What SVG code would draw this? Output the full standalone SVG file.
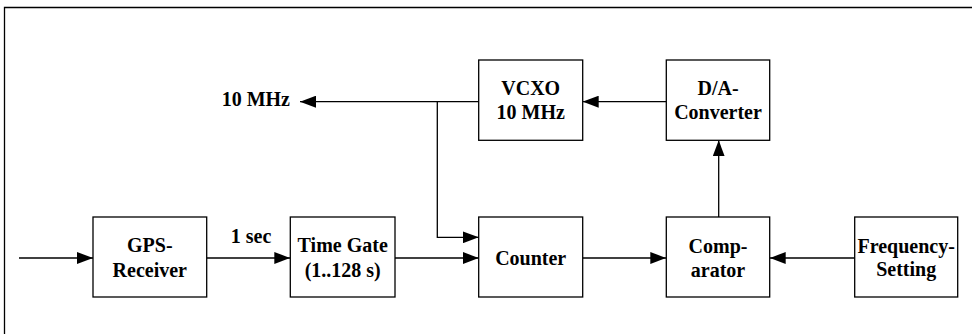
<svg xmlns="http://www.w3.org/2000/svg" width="972" height="334" viewBox="0 0 972 334">
<style>
.box{fill:#fff;stroke:#000;stroke-width:1.3}
.ln{fill:none;stroke:#000;stroke-width:1.3}
text{font-family:'Liberation Serif',serif;font-size:20px;font-weight:bold;fill:#000;text-anchor:middle}
.e{text-anchor:end}
</style>
<defs>
<marker id="ah" markerUnits="userSpaceOnUse" markerWidth="16" markerHeight="12" refX="16" refY="6" orient="auto">
<path d="M0,0 L16,6 L0,12 z" fill="#000"/>
</marker>
</defs>
<rect width="972" height="334" fill="#fff"/>
<path class="ln" d="M4.5,334 V7.5 H972" stroke-width="1.5"/>
<g id="connectors">
<path class="ln" d="M19,258 H93" marker-end="url(#ah)"/>
<path class="ln" d="M206.7,258 H290.3" marker-end="url(#ah)"/>
<path class="ln" d="M395,258 H478.7" marker-end="url(#ah)"/>
<path class="ln" d="M582.7,258 H666.3" marker-end="url(#ah)"/>
<path class="ln" d="M854.7,258 H769.7" marker-end="url(#ah)"/>
<path class="ln" d="M718.7,217 V140.3" marker-end="url(#ah)"/>
<path class="ln" d="M666.3,101.7 H582.7" marker-end="url(#ah)"/>
<path class="ln" d="M478.7,101.7 H300" marker-end="url(#ah)"/>
<path class="ln" d="M437.3,101.7 V237.3 H478.7" marker-end="url(#ah)"/>
<text x="251" y="243">1 sec</text>
<text class="e" x="290" y="106">10 MHz</text>
</g>
<g id="gps">
<rect class="box" x="93" y="217" width="113.7" height="80"/>
<text x="149.8" y="252">GPS-</text>
<text x="149.8" y="277">Receiver</text>
</g>
<g id="timegate">
<rect class="box" x="290.3" y="217" width="104.7" height="80"/>
<text x="342.7" y="252">Time Gate</text>
<text x="342.7" y="277">(1..128 s)</text>
</g>
<g id="counter">
<rect class="box" x="478.7" y="217" width="104" height="80"/>
<text x="530.7" y="265">Counter</text>
</g>
<g id="vcxo">
<rect class="box" x="478.7" y="60" width="104" height="80.3"/>
<text x="530.7" y="95">VCXO</text>
<text x="530.7" y="119">10 MHz</text>
</g>
<g id="dac">
<rect class="box" x="666.3" y="60" width="103.4" height="80.3"/>
<text x="718" y="95">D/A-</text>
<text x="718" y="119">Converter</text>
</g>
<g id="comparator">
<rect class="box" x="666.3" y="217" width="103.4" height="80"/>
<text x="718" y="253">Comp-</text>
<text x="718" y="277">arator</text>
</g>
<g id="frequency">
<rect class="box" x="854.7" y="217" width="103" height="80"/>
<text x="906.2" y="253">Frequency-</text>
<text x="906.2" y="276">Setting</text>
</g>
</svg>
